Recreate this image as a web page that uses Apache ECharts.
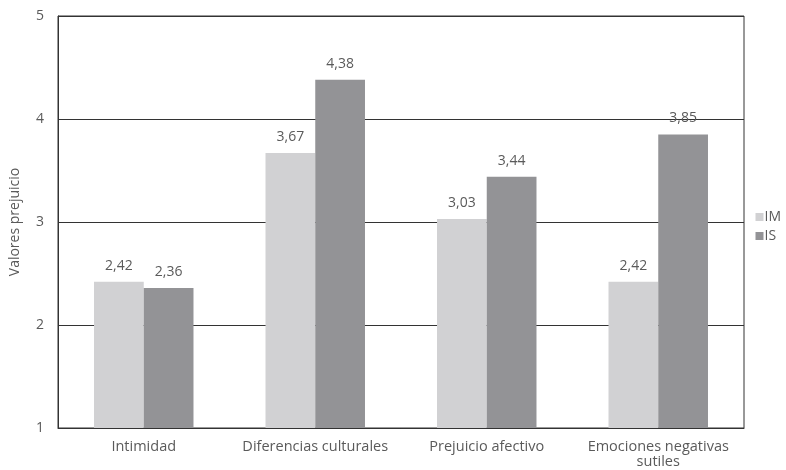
<!DOCTYPE html>
<html>
<head>
<meta charset="utf-8">
<script src="https://cdn.jsdelivr.net/npm/echarts@6/dist/echarts.min.js"></script>
<style>
  html, body { margin: 0; padding: 0; background: #fff; }
  #chart { width: 786px; height: 470px; }
</style>
</head>
<body>
<div id="chart"></div>
<script>
// Categories and mean prejudice scores per group
const categories = ['Intimidad', 'Diferencias culturales', 'Prejuicio afectivo', 'Emociones negativas\nsutiles'];
const valuesIM = [2.42, 3.67, 3.03, 2.42];
const valuesIS = [2.36, 4.38, 3.44, 3.85];
const yTicks = [1, 2, 3, 4, 5];

const textColor = '#5a5a5a';
const fontFamily = '"Open Sans", "DejaVu Sans", sans-serif';

const chart = echarts.init(document.getElementById('chart'));

function fmt(v) {
  return v.toFixed(2).replace('.', ',');
}

const labelStyle = {
  show: true, position: 'top', distance: 9,
  fontSize: 14, color: textColor, fontFamily: fontFamily,
  formatter: p => fmt(p.value)
};

chart.setOption({
  animation: false,
  textStyle: { fontFamily: fontFamily, color: textColor },
  grid: {
    left: 57.5, right: 42, top: 16, bottom: 42,
    show: true, borderColor: '#333', borderWidth: 1
  },
  legend: {
    orient: 'vertical',
    right: 0,
    top: 205,
    itemWidth: 8,
    itemHeight: 8,
    itemGap: 5,
    icon: 'rect',
    textStyle: { fontSize: 14, color: textColor, fontFamily: fontFamily, padding: [0, 0, 0, -4] },
    data: ['IM', 'IS']
  },
  xAxis: {
    type: 'category',
    data: categories,
    axisLine: { lineStyle: { color: '#333' } },
    axisTick: { show: false },
    axisLabel: { fontSize: 14.5, color: textColor, margin: 11, lineHeight: 15, interval: 0 }
  },
  yAxis: {
    type: 'value',
    min: yTicks[0],
    max: yTicks[yTicks.length - 1],
    interval: 1,
    name: 'Valores prejuicio',
    nameLocation: 'middle',
    nameGap: 36,
    nameTextStyle: { fontSize: 14, color: textColor },
    axisLine: { show: true, lineStyle: { color: '#333' } },
    axisTick: { show: false },
    axisLabel: { fontSize: 14, color: textColor, margin: 14 },
    splitLine: { lineStyle: { color: '#333', width: 1 } }
  },
  series: [
    {
      name: 'IM',
      type: 'bar',
      data: valuesIM,
      barGap: '0%',
      barCategoryGap: '42%',
      itemStyle: { color: '#d1d1d3' },
      label: labelStyle
    },
    {
      name: 'IS',
      type: 'bar',
      data: valuesIS,
      itemStyle: { color: '#939396' },
      label: labelStyle
    }
  ]
});
</script>
</body>
</html>
